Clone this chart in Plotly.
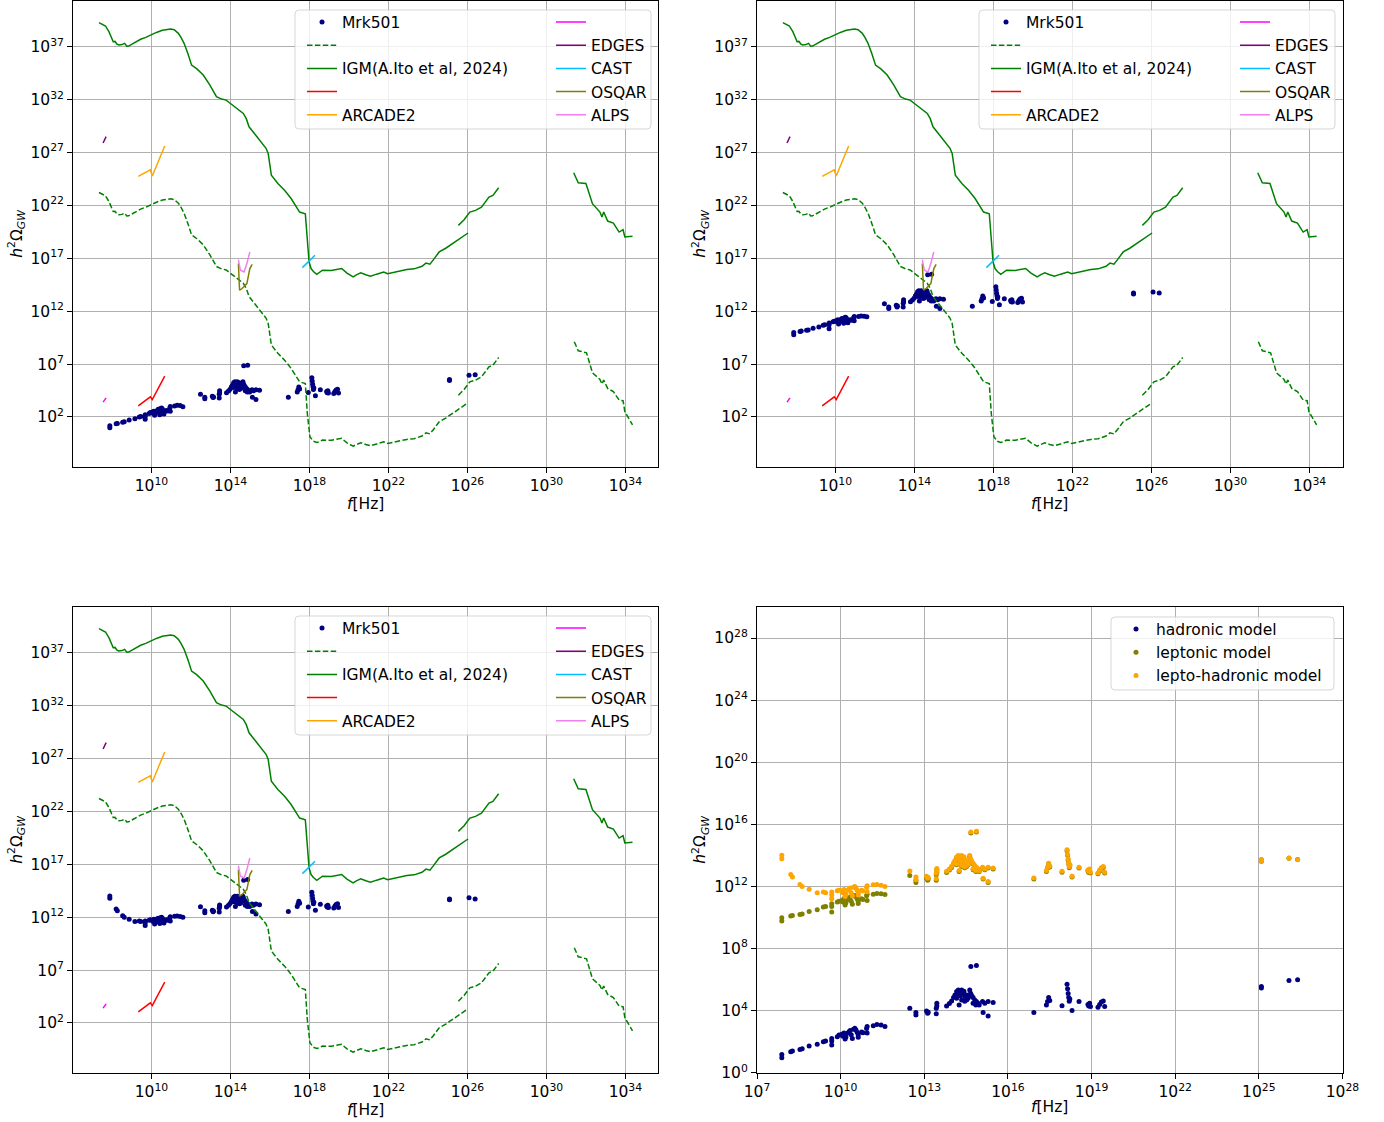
import plotly.graph_objects as go

W, H = 1384, 1122
FONT = "DejaVu Sans"
FS = 15.5

# ---------------- Mrk501 points (log10 f [Hz], log10 h^2 Omega_GW) ----------------
mrk_logf = [7.89, 7.89, 8.21, 8.27, 8.54, 8.62, 8.87, 9.16, 9.38, 9.46,
            9.68, 9.68, 9.68, 9.88, 9.94, 10.04, 10.08, 10.12, 10.16, 10.19,
            10.26, 10.30, 10.34, 10.38, 10.42, 10.46, 10.51, 10.55, 10.59, 10.63,
            10.63, 10.75, 10.80, 10.93, 10.95, 10.95, 11.17, 11.30, 11.45, 11.59,
            12.48, 12.70, 12.70, 13.08, 13.12, 13.14, 13.43, 13.43, 13.45, 13.45,
            13.80, 13.90, 13.98, 14.10, 14.16, 14.22, 14.28, 14.34, 14.39, 14.46,
            14.52, 14.57, 14.63, 14.66, 14.70, 14.75, 14.81, 14.87, 14.93, 14.25,
            14.52, 14.16, 14.34, 14.75, 14.85, 14.67, 14.87, 15.09, 15.17, 15.29,
            15.47, 15.11, 15.29, 14.97, 14.05, 14.20, 14.30, 14.42, 14.60, 14.45,
            16.93, 17.38, 17.42, 17.46, 17.50, 17.94, 18.12, 18.14, 18.16, 18.18,
            18.20, 18.22, 18.30, 18.55, 18.87, 18.90, 18.93, 18.96, 19.23, 19.29,
            19.35, 19.42, 19.47, 25.09, 25.09, 26.08, 26.39]
hadronic_log = [1.18, 0.97, 1.35, 1.39, 1.50, 1.55, 1.72, 1.83, 2.00, 2.04,
                2.21, 2.04, 1.78, 2.32, 2.43, 2.47, 2.35, 2.55, 2.17, 2.30,
                2.55, 2.64, 2.72, 2.45, 2.21, 2.80, 2.86, 2.75, 2.60, 2.28,
                2.45, 2.62, 2.57, 2.85, 2.55, 2.98, 3.03, 3.10, 3.08, 2.97,
                4.15, 3.87, 3.72, 3.97, 3.83, 3.90, 4.15, 3.80, 4.47, 4.30,
                4.30, 4.45, 4.62, 5.01, 5.23, 5.33, 5.23, 5.33, 5.12, 4.90,
                5.01, 4.79, 5.33, 5.12, 4.97, 4.84, 4.68, 4.58, 4.47, 4.36,
                4.68, 4.79, 4.68, 4.47, 4.36, 6.84, 6.90, 4.58, 4.47, 4.58,
                4.52, 3.87, 3.65, 4.36, 4.85, 5.10, 4.95, 5.25, 4.92, 4.60,
                3.87, 4.36, 4.58, 4.84, 4.65, 4.32, 5.70, 5.40, 5.10, 4.85,
                4.60, 4.75, 4.00, 4.58, 4.40, 4.30, 4.47, 4.26, 4.21, 4.40,
                4.55, 4.62, 4.26, 5.55, 5.45, 5.94, 5.98]
leptonic_log = [9.98, 9.77, 10.09, 10.13, 10.19, 10.23, 10.39, 10.50, 10.67, 10.71,
                10.88, 10.71, 10.35, 10.99, 11.05, 11.10, 11.00, 11.20, 10.80, 10.95,
                11.15, 11.25, 11.30, 11.05, 10.85, 11.38, 11.42, 11.35, 11.20, 10.90,
                11.05, 11.20, 11.15, 11.40, 11.10, 11.50, 11.50, 11.55, 11.53, 11.48,
                12.71, 12.40, 12.25, 12.55, 12.40, 12.48, 12.75, 12.40, 13.07, 12.90,
                12.90, 13.05, 13.22, 13.61, 13.83, 13.93, 13.83, 13.93, 13.72, 13.50,
                13.61, 13.39, 13.93, 13.72, 13.57, 13.44, 13.28, 13.18, 13.07, 12.96,
                13.28, 13.39, 13.28, 13.07, 12.96, 15.44, 15.50, 13.18, 13.07, 13.18,
                13.12, 12.47, 12.25, 12.96, 13.45, 13.70, 13.55, 13.85, 13.52, 13.20,
                12.47, 12.96, 13.18, 13.44, 13.25, 12.92, 14.30, 14.00, 13.70, 13.45,
                13.20, 13.35, 12.60, 13.18, 13.00, 12.90, 13.07, 12.86, 12.81, 13.00,
                13.15, 13.22, 12.86, 13.72, 13.62, 13.82, 13.73]
leptohadronic_log = [14.00, 13.79, 12.77, 12.60, 12.13, 12.00, 11.81, 11.59, 11.64, 11.59,
                     11.64, 11.45, 11.21, 11.72, 11.75, 11.72, 11.60, 11.80, 11.35, 11.50,
                     11.75, 11.85, 11.90, 11.60, 11.40, 11.95, 12.00, 11.90, 11.75, 11.45,
                     11.60, 11.75, 11.70, 11.95, 11.65, 12.05, 12.10, 12.12, 12.07, 12.00,
                     12.99, 12.60, 12.43, 12.65, 12.52, 12.58, 12.85, 12.50, 13.15, 13.00,
                     12.97, 13.12, 13.30, 13.67, 13.89, 13.99, 13.89, 13.99, 13.78, 13.56,
                     13.67, 13.45, 13.99, 13.78, 13.63, 13.50, 13.34, 13.24, 13.13, 13.02,
                     13.34, 13.45, 13.34, 13.13, 13.02, 15.50, 15.56, 13.24, 13.13, 13.24,
                     13.18, 12.53, 12.31, 13.02, 13.51, 13.76, 13.61, 13.91, 13.58, 13.26,
                     12.54, 13.02, 13.24, 13.50, 13.31, 12.97, 14.36, 14.06, 13.76, 13.51,
                     13.26, 13.41, 12.65, 13.23, 13.05, 12.96, 13.13, 12.92, 12.87, 13.06,
                     13.21, 13.28, 12.92, 13.72, 13.65, 13.83, 13.72]

# ---------------- IGM curves (log10), None separates pieces ----------------
igm_solid_logf = [7.34, 7.50, 7.67, 7.85, 8.06, 8.15, 8.25, 8.35, 8.50, 8.64, 8.75, 8.84,
                  9.05, 9.25, 9.45, 9.71, 9.95, 10.25, 10.55, 10.80, 10.97, 11.15, 11.36,
                  11.50, 11.65, 11.85, 12.03, 12.30, 12.62, 12.95, 13.29, 13.55, 13.78,
                  13.95, 14.17, 14.40, 14.65, 14.80, 14.94, 15.25, 15.62, 15.80, 15.91,
                  16.00, 16.07, 16.40, 16.75, 17.07, 17.30, 17.50, 17.79, 17.98, 18.08,
                  18.20, 18.37, 18.50, 18.66, 19.10, 19.63, 19.90, 20.21, 20.40, 20.60,
                  20.85, 21.09, 21.40, 21.76, 21.96, 22.40, 22.93, 23.30, 23.70, 23.90,
                  24.10, 24.28, 24.57, 24.90, 25.25, 25.60, 26.03,
                  None,
                  25.54, 25.83, 26.12, 26.41, 26.71, 26.90, 27.09, 27.29, 27.58,
                  None,
                  31.38, 31.61, 32.00, 32.33, 32.71, 32.81, 32.90, 33.10, 33.39, 33.68,
                  33.88, 33.97, 34.36]
igm_solid_log = [39.27, 39.15, 38.96, 38.40, 37.47, 37.50, 37.25, 37.16, 37.20, 37.32, 37.05, 37.06,
                 37.30, 37.55, 37.70, 37.88, 38.10, 38.35, 38.55, 38.65, 38.67, 38.60, 38.26,
                 37.85, 37.32, 36.30, 35.26, 34.90, 34.32, 33.40, 32.27, 32.05, 31.95,
                 31.70, 31.38, 31.00, 30.69, 30.20, 29.43, 28.70, 27.85, 27.40, 26.90,
                 25.90, 24.85, 24.07, 23.40, 22.65, 22.00, 21.37, 21.21, 16.65, 16.03,
                 15.75, 15.49, 15.70, 15.87, 15.85, 16.03, 15.60, 15.24, 15.45, 15.62,
                 15.45, 15.30, 15.50, 15.71, 15.55, 15.75, 15.93, 16.00, 16.25, 16.55,
                 16.45, 16.87, 17.60, 17.95, 18.38, 18.85, 19.39,
                 None,
                 20.11, 20.65, 21.37, 21.53, 21.84, 22.31, 22.79, 22.94, 23.67,
                 None,
                 25.08, 24.13, 24.07, 22.16, 21.37, 20.90, 21.37, 20.52, 20.33, 19.48,
                 19.70, 19.01, 19.08]
igm_dashed_logf = [7.34, 7.50, 7.67, 7.85, 8.06, 8.15, 8.25, 8.35, 8.50, 8.64, 8.75, 8.84,
                   9.05, 9.25, 9.45, 9.71, 9.95, 10.25, 10.55, 10.80, 10.97, 11.15, 11.36,
                   11.50, 11.65, 11.85, 12.03, 12.30, 12.62, 12.95, 13.29, 13.55, 13.78,
                   13.95, 14.17, 14.40, 14.65, 14.80, 14.94, 15.25, 15.62, 15.80, 15.91,
                   16.00, 16.07, 16.40, 16.75, 17.07, 17.30, 17.50, 17.79, 17.89, 18.02,
                   18.20, 18.37, 18.50, 18.66, 19.10, 19.63, 19.90, 20.21, 20.40, 20.60,
                   20.85, 21.09, 21.40, 21.76, 21.96, 22.40, 22.93, 23.30, 23.70, 23.90,
                   24.10, 24.28, 24.57, 24.90, 25.25, 25.60, 26.03,
                   None,
                   25.54, 25.83, 26.12, 26.41, 26.71, 26.90, 27.09, 27.29, 27.58,
                   None,
                   31.41, 31.61, 32.03, 32.33, 32.71, 32.81, 32.90, 33.10, 33.39, 33.68,
                   33.88, 33.97, 34.36]
igm_dashed_log = [23.22, 23.10, 22.91, 22.35, 21.42, 21.45, 21.20, 21.11, 21.15, 21.27, 21.00, 21.01,
                  21.25, 21.50, 21.65, 21.83, 22.05, 22.30, 22.50, 22.60, 22.62, 22.55, 22.21,
                  21.80, 21.27, 20.25, 19.21, 18.85, 18.27, 17.35, 16.22, 16.00, 15.90,
                  15.65, 15.33, 14.95, 14.64, 14.15, 13.38, 12.65, 11.80, 11.35, 10.85,
                  9.85, 8.80, 8.02, 7.35, 6.60, 5.95, 5.32, 5.16, 2.35, 0.14,
                  -0.30, -0.40, -0.35, -0.18, -0.20, -0.02, -0.45, -0.75, -0.60, -0.43,
                  -0.60, -0.72, -0.55, -0.34, -0.50, -0.30, -0.12, -0.05, 0.20, 0.50,
                  0.40, 0.82, 1.55, 1.90, 2.33, 2.80, 3.34,
                  None,
                  4.06, 4.60, 5.32, 5.48, 5.79, 6.26, 6.74, 6.89, 7.62,
                  None,
                  9.11, 8.26, 8.07, 6.18, 5.55, 5.11, 5.49, 4.70, 4.39, 3.60,
                  3.54, 2.50, 1.25]

# ---------------- other bounds (log10) ----------------
magenta_logf = [7.55, 7.70]
magenta_log = [3.40, 3.80]
edges_logf = [7.55, 7.70]
edges_log = [27.90, 28.50]
red_logf = [9.33, 9.70, 9.94, 10.04, 10.67]
red_log = [3.04, 3.55, 3.90, 3.64, 5.87]
arcade2_logf = [9.33, 9.70, 9.94, 10.04, 10.67]
arcade2_log = [24.75, 25.10, 25.37, 24.78, 27.62]
cast_logf = [17.64, 17.95, 18.28]
cast_log = [16.12, 16.65, 17.28]
osqar_logf = [14.40, 14.46, 14.59, 14.83, 14.98, 15.10]
osqar_log = [16.50, 13.98, 14.14, 14.61, 16.03, 16.43]
alps_logf = [14.40, 14.45, 14.50, 14.69, 14.83, 14.98]
alps_log = [16.87, 16.20, 15.87, 15.71, 16.50, 17.60]

# ---------------- tick exponents ----------------
wide_x_exp = [10, 14, 18, 22, 26, 30, 34]
wide_y_exp = [2, 7, 12, 17, 22, 27, 32, 37]
model_x_exp = [7, 10, 13, 16, 19, 22, 25, 28]
model_y_exp = [0, 4, 8, 12, 16, 20, 24, 28]


def p10(vals):
    return [None if v is None else 10.0 ** float(v) for v in vals]


def pow_labels(exps):
    return [f"10<sup>{e}</sup>" for e in exps]


fig = go.Figure()

NAVY, OLIVE, ORANGE, GREEN = "#000080", "#808000", "#FFA500", "#008000"

line_specs = [
    # name, xs, ys, color, dash, legend column
    ("", igm_dashed_logf, igm_dashed_log, GREEN, "5.5px,2.4px", 1),
    ("IGM(A.Ito et al, 2024)", igm_solid_logf, igm_solid_log, GREEN, "solid", 1),
    ("", red_logf, red_log, "#FF0000", "solid", 1),
    ("ARCADE2", arcade2_logf, arcade2_log, ORANGE, "solid", 1),
    ("", magenta_logf, magenta_log, "#FF00FF", "solid", 2),
    ("EDGES", edges_logf, edges_log, "#800080", "solid", 2),
    ("CAST", cast_logf, cast_log, "#00BFFF", "solid", 2),
    ("OSQAR", osqar_logf, osqar_log, OLIVE, "solid", 2),
    ("ALPS", alps_logf, alps_log, "#EE82EE", "solid", 2),
]

panel_points = [hadronic_log, leptonic_log, leptohadronic_log]

for p in range(3):
    xa = "x" if p == 0 else f"x{p + 1}"
    ya = "y" if p == 0 else f"y{p + 1}"
    leg1 = "legend" if p == 0 else f"legend{2 * p + 1}"
    leg2 = f"legend{2 * p + 2}"
    fig.add_trace(go.Scatter(
        x=p10(mrk_logf), y=p10(panel_points[p]), mode="markers", name="Mrk501",
        marker=dict(color=NAVY, size=5, line=dict(width=0)),
        xaxis=xa, yaxis=ya, legend=leg1))
    for i, (nm, xs, ys, col, dash, c) in enumerate(line_specs):
        fig.add_trace(go.Scatter(
            x=p10(xs), y=p10(ys), mode="lines", name=nm,
            line=dict(color=col, width=1.5, dash=dash),
            xaxis=xa, yaxis=ya, legend=leg1 if c == 1 else leg2,
            connectgaps=False))

model_specs = [("hadronic model", hadronic_log, NAVY),
               ("leptonic model", leptonic_log, OLIVE),
               ("lepto-hadronic model", leptohadronic_log, ORANGE)]
for i, (nm, ys, col) in enumerate(model_specs):
    fig.add_trace(go.Scatter(
        x=p10(mrk_logf), y=p10(ys), mode="markers", name=nm,
        marker=dict(color=col, size=5, line=dict(width=0)),
        xaxis="x4", yaxis="y4", legend="legend7"))

tickfont = dict(family=FONT, size=FS, color="black")
axis_common = dict(type="log", showline=True, linecolor="black", linewidth=1, mirror=True,
                   ticks="outside", ticklen=5, tickwidth=1, tickcolor="black",
                   showgrid=True, gridcolor="#b0b0b0", gridwidth=0.8, zeroline=False,
                   tickmode="array", tickfont=tickfont, automargin=False)

left_dom = [73.1 / W, 658.4 / W]
right_dom = [757.0 / W, 1342.5 / W]
top_dom = [1 - 466.7 / H, 1 - 1.0 / H]
bot_dom = [1 - 1072.7 / H, 1 - 607.0 / H]

xtitle = dict(text="<i>f</i>[Hz]", font=dict(family=FONT, size=FS, color="black"), standoff=0)
ytitle = dict(text="<i>h</i><sup>2</sup>Ω<sub><i>GW</i></sub>",
              font=dict(family=FONT, size=FS, color="black"), standoff=4)

layout = dict(width=W, height=H, margin=dict(l=0, r=0, t=0, b=0, autoexpand=False),
              paper_bgcolor="white", plot_bgcolor="white",
              font=dict(family=FONT, size=FS, color="black"))

doms = [(left_dom, top_dom), (right_dom, top_dom), (left_dom, bot_dom), (right_dom, bot_dom)]
for k, (dx, dy) in enumerate(doms):
    xs = "xaxis" if k == 0 else f"xaxis{k + 1}"
    ys = "yaxis" if k == 0 else f"yaxis{k + 1}"
    xid = "x" if k == 0 else f"x{k + 1}"
    yid = "y" if k == 0 else f"y{k + 1}"
    if k < 3:
        xr, xe = [6.03, 35.67], wide_x_exp
        yr, ye = [-2.70, 41.32], wide_y_exp
    else:
        xr, xe = [7, 28], model_x_exp
        yr, ye = [0, 30], model_y_exp
    layout[xs] = dict(axis_common, domain=dx, range=xr, tickvals=p10(xe),
                      ticktext=pow_labels(xe), anchor=yid, title=xtitle)
    layout[ys] = dict(axis_common, domain=dy, range=yr, tickvals=p10(ye),
                      ticktext=pow_labels(ye), anchor=xid, title=ytitle)


def legend_at(xpx, ypx):
    return dict(x=xpx / W, y=1 - ypx / H, xanchor="left", yanchor="top",
                bgcolor="rgba(0,0,0,0)", borderwidth=0, orientation="v",
                tracegroupgap=0, font=dict(family=FONT, size=FS, color="black"))


layout["legend"] = legend_at(302, 5.5)
layout["legend2"] = legend_at(551, 5.5)
layout["legend3"] = legend_at(986, 5.5)
layout["legend4"] = legend_at(1235, 5.5)
layout["legend5"] = legend_at(302, 611.5)
layout["legend6"] = legend_at(551, 611.5)
layout["legend7"] = legend_at(1116, 612.5)


def rounded_frame(x0, x1, y0, y1, r=4.0):
    # pixel box -> paper-coordinate path with rounded corners
    X = lambda v: v / W
    Y = lambda v: 1 - v / H
    return (f"M {X(x0 + r)},{Y(y0)} L {X(x1 - r)},{Y(y0)} Q {X(x1)},{Y(y0)} {X(x1)},{Y(y0 + r)} "
            f"L {X(x1)},{Y(y1 - r)} Q {X(x1)},{Y(y1)} {X(x1 - r)},{Y(y1)} "
            f"L {X(x0 + r)},{Y(y1)} Q {X(x0)},{Y(y1)} {X(x0)},{Y(y1 - r)} "
            f"L {X(x0)},{Y(y0 + r)} Q {X(x0)},{Y(y0)} {X(x0 + r)},{Y(y0)} Z")


frames = [(295, 651, 10, 129), (979, 1335, 10, 129), (295, 651, 616, 735), (1111, 1334, 617, 690)]
shapes = []
for (x0, x1, y0, y1) in frames:
    shapes.append(dict(type="path", xref="paper", yref="paper",
                       path=rounded_frame(x0, x1, y0, y1),
                       fillcolor="rgba(255,255,255,0.8)",
                       line=dict(color="rgba(204,204,204,0.8)", width=1), layer="above"))
layout["shapes"] = shapes

fig.update_layout(**layout)
fig.write_html("out.html", config={"displayModeBar": False},
               post_script="document.body.style.margin='0';")
